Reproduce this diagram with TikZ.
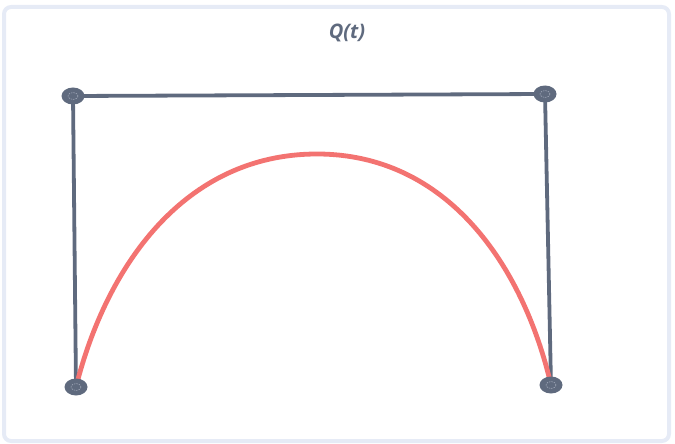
\documentclass[tikz,border=0pt]{standalone}
\usepackage{fontspec}
\setmainfont{Open Sans}
\usepackage{xcolor}
\usepackage{tikz}
\usetikzlibrary{calc, positioning, shapes.geometric}

\definecolor{slate}{HTML}{5F6A7E}
\definecolor{coral}{HTML}{F37371}
\definecolor{frame}{HTML}{E6EBF6}
\definecolor{ring}{HTML}{9AA2B2}

\begin{document}
\begin{tikzpicture}[
    x=1pt, y=-1pt,
    hull/.style={draw=slate, line width=3.8pt, line join=round},
    curve/.style={draw=coral, line width=4.8pt},
    handle/.style={ellipse, fill=slate, draw=none, minimum width=23pt, minimum height=17pt, inner sep=0pt,
        path picture={\draw[ring, line width=0.6pt, dash pattern=on 1.5pt off 1pt] (path picture bounding box.center) ellipse (5 and 3.5);}},
    title/.style={font=\fontsize{20}{22}\selectfont\bfseries\itshape, text=slate}
]
\useasboundingbox (0,0) rectangle (675,444);
\draw[frame, line width=4pt, rounded corners=7pt] (4,7) rectangle (669,441);

% control points
\coordinate (P0) at (76,387);
\coordinate (P1) at (73,96);
\coordinate (P2) at (545,94);
\coordinate (P3) at (551,385);
\coordinate (top) at (317,154);

% control polygon
\draw[hull] (P0) -- (P1) -- (P2) -- (P3);

% the curve
\draw[curve] (P0) .. controls +(30,-120) and +(-133,0) .. (top)
    .. controls +(130,0) and +(-28,-120) .. (P3);

% handles
\node[handle] (h0) at (P0) {};
\node[handle] (h1) at (P1) {};
\node[handle] (h2) at (P2) {};
\node[handle] (h3) at (P3) {};

\node[title] (q) at (347,33) {Q(t)};
\end{tikzpicture}
\end{document}
